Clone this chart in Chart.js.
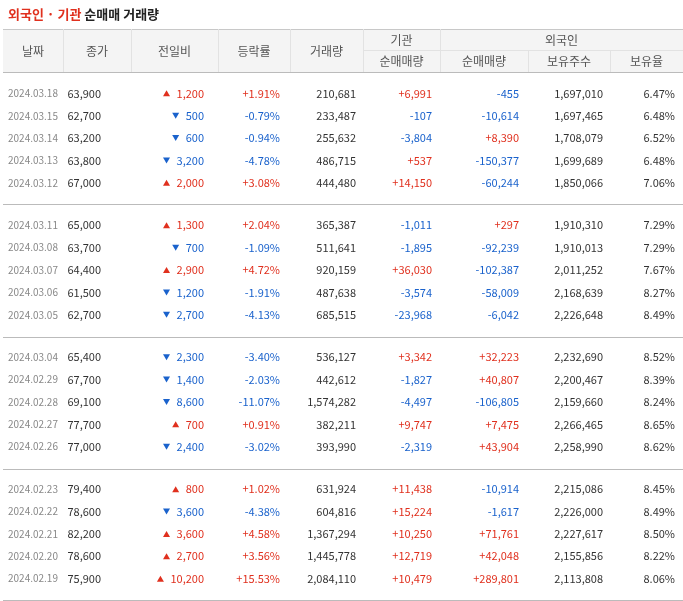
<!DOCTYPE html><html><head><meta charset="utf-8">
<script src="https://cdn.jsdelivr.net/npm/chart.js@4"></script>
<style>html,body{margin:0;padding:0;background:#fff}canvas{display:block}</style></head><body>
<div style="width:683px;height:601px"><canvas id="c"></canvas></div>
<script>
const dates=["2024.03.18","2024.03.15","2024.03.14","2024.03.13","2024.03.12","2024.03.11","2024.03.08","2024.03.07","2024.03.06","2024.03.05","2024.03.04","2024.02.29","2024.02.28","2024.02.27","2024.02.26","2024.02.23","2024.02.22","2024.02.21","2024.02.20","2024.02.19"];
const closes=[63900,62700,63200,63800,67000,65000,63700,64400,61500,62700,65400,67700,69100,77700,77000,79400,78600,82200,78600,75900];
const changes=[1200,-500,-600,-3200,2000,1300,-700,2900,-1200,-2700,-2300,-1400,-8600,700,-2400,800,-3600,3600,2700,10200];
const rates=[1.91,-0.79,-0.94,-4.78,3.08,2.04,-1.09,4.72,-1.91,-4.13,-3.40,-2.03,-11.07,0.91,-3.02,1.02,-4.38,4.58,3.56,15.53];
const volumes=[210681,233487,255632,486715,444480,365387,511641,920159,487638,685515,536127,442612,1574282,382211,393990,631924,604816,1367294,1445778,2084110];
const instNet=[6991,-107,-3804,537,14150,-1011,-1895,36030,-3574,-23968,3342,-1827,-4497,9747,-2319,11438,15224,10250,12719,10479];
const foreignNet=[-455,-10614,8390,-150377,-60244,297,-92239,-102387,-58009,-6042,32223,40807,-106805,7475,43904,-10914,-1617,71761,42048,289801];
const foreignHold=[1697010,1697465,1708079,1699689,1850066,1910310,1910013,2011252,2168639,2226648,2232690,2200467,2159660,2266465,2258990,2215086,2226000,2227617,2155856,2113808];
const foreignRatio=[6.47,6.48,6.52,6.48,7.06,7.29,7.29,7.67,8.27,8.49,8.52,8.39,8.24,8.65,8.62,8.45,8.49,8.50,8.22,8.06];
const headers1=["날짜","종가","전일비","등락률","거래량"];
const headers2=["순매매량","순매매량","보유주수","보유율"];
const colEdges=[3,63,131,218,290,363,440,528,610,683];

const RED="#e0301e",BLUE="#1a62cc";
const fmt=v=>Math.abs(v).toLocaleString('en-US');
const sgn=v=>(v>0?"+":"-")+fmt(v);
const pos=dates.map((d,i)=>({x:0,y:i+Math.floor(i/5)*0.9}));

const tablePlugin={id:'tbl',afterDraw(ch){
 const c=ch.ctx,xs=ch.scales.x,ys=ch.scales.y;
 const X=v=>xs.getPixelForValue(v),Y=v=>ys.getPixelForValue(v);
 c.save();
 c.textBaseline='middle';
 c.font='bold 13px "Noto Sans CJK KR"';c.textAlign='left';
 c.fillStyle=RED;c.fillText("외국인 · 기관",X(8),14);
 let w=c.measureText("외국인 · 기관 ").width;
 c.fillStyle="#222";c.fillText("순매매 거래량",X(8)+w,14);
 // header
 c.fillStyle="#f4f4f4";c.fillRect(X(3),29,X(683)-X(3),43);
 c.strokeStyle="#c8c8c8";c.lineWidth=1;
 c.beginPath();c.moveTo(X(3),29.5);c.lineTo(X(683),29.5);c.stroke();
 c.strokeStyle="#e2e2e2";
 c.beginPath();
 for(let k=1;k<colEdges.length-1;k++){const x=Math.round(X(colEdges[k]))+0.5;const top=(k==7||k==8)?51:29;c.moveTo(x,top);c.lineTo(x,72);}
 c.moveTo(X(363),50.5);c.lineTo(X(683),50.5);
 c.stroke();
 c.font='12px "Noto Sans CJK KR"';c.fillStyle="#555";c.textAlign='center';
 headers1.forEach((h,k)=>c.fillText(h,(X(colEdges[k])+X(colEdges[k+1]))/2,51));
 c.fillText("기관",(X(363)+X(440))/2,40);
 c.fillText("외국인",(X(440)+X(683))/2,40);
 headers2.forEach((h,k)=>c.fillText(h,(X(colEdges[k+5])+X(colEdges[k+6]))/2,61));
 // separators
 c.strokeStyle="#bbb";
 [72.5,204.5,337.5,469.5,600.5].forEach(y=>{c.beginPath();c.moveTo(X(3),y);c.lineTo(X(683),y);c.stroke();});
 // rows
 dates.forEach((d,i)=>{
  const y=Y(pos[i].y);
  c.font='10px "Noto Sans CJK KR"';c.textAlign='left';c.fillStyle="#888";c.fillText(d,X(8),y);
  c.font='11px "Noto Sans CJK KR"';c.textAlign='right';
  c.fillStyle="#333";c.fillText(fmt(closes[i]),X(101),y);
  const ch2=changes[i];c.fillStyle=ch2>0?RED:BLUE;
  c.fillText(fmt(ch2),X(204),y);
  const tw=c.measureText(fmt(ch2)).width,tx=X(204)-tw-10;
  c.beginPath();
  if(ch2>0){c.moveTo(tx-3.5,y+3);c.lineTo(tx+3.5,y+3);c.lineTo(tx,y-3);}
  else{c.moveTo(tx-3.5,y-3);c.lineTo(tx+3.5,y-3);c.lineTo(tx,y+3);}
  c.closePath();c.fill();
  c.fillStyle=rates[i]>0?RED:BLUE;c.fillText((rates[i]>0?"+":"-")+Math.abs(rates[i]).toFixed(2)+"%",X(280),y);
  c.fillStyle="#333";c.fillText(fmt(volumes[i]),X(356),y);
  c.fillStyle=instNet[i]>0?RED:BLUE;c.fillText(sgn(instNet[i]),X(432),y);
  c.fillStyle=foreignNet[i]>0?RED:BLUE;c.fillText(sgn(foreignNet[i]),X(519),y);
  c.fillStyle="#333";c.fillText(fmt(foreignHold[i]),X(603),y);
  c.fillText(foreignRatio[i].toFixed(2)+"%",X(675),y);
 });
 c.restore();
}};

new Chart(document.getElementById('c'),{type:'scatter',
 data:{datasets:[{data:pos,pointRadius:0,pointHoverRadius:0}]},
 options:{responsive:true,maintainAspectRatio:false,animation:false,
  layout:{padding:{top:71,bottom:0,left:0,right:0}},
  plugins:{legend:{display:false},tooltip:{enabled:false}},
  events:[],
  scales:{x:{type:'linear',min:0,max:683,display:false},
          y:{type:'linear',min:-1,max:22.7,reverse:true,display:false}}},
 plugins:[tablePlugin]});
</script></body></html>
